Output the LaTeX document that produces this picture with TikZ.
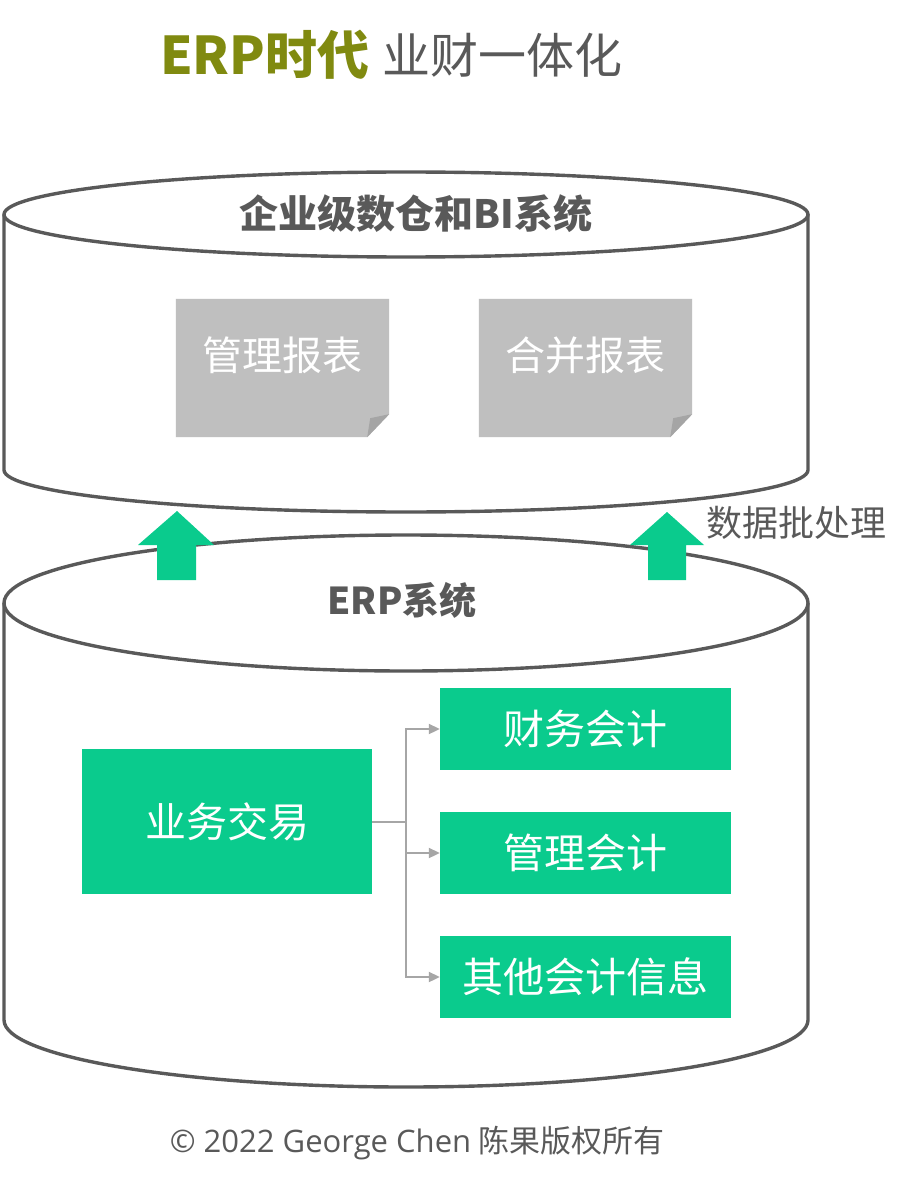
\documentclass[tikz,border=0pt]{standalone}
\usepackage{fontspec}
\setmainfont{Noto Sans CJK SC}
\newfontfamily\latinf{Open Sans}
\usetikzlibrary{arrows.meta}
\definecolor{txtgray}{HTML}{595959}
\definecolor{linegray}{HTML}{595959}
\definecolor{olive}{RGB}{128,138,16}
\definecolor{mint}{HTML}{0ACB8D}
\definecolor{boxgray}{HTML}{BFBFBF}
\definecolor{foldgray}{HTML}{A5A5A5}
\definecolor{conngray}{HTML}{A6A6A6}
\newcommand{\fs}[1]{\fontsize{#1}{#1}\selectfont}
\tikzset{
  cyl/.style={draw=linegray, line width=3.4pt, fill=white},
  greenbox/.style={fill=mint, text=white, inner sep=0pt, font=\fs{41}},
  graynote/.style={inner sep=0pt, text=white, font=\fs{40}, minimum width=213pt, minimum height=138pt},
  bigarrow/.style={fill=mint},
  conn/.style={draw=conngray, line width=2pt, -{Triangle[length=11pt,width=10pt]}},
  plain/.style={draw=conngray, line width=2pt},
}
\begin{document}
\begin{tikzpicture}[x=1pt,y=-1pt]
\useasboundingbox (0,0) rectangle (910,1182);
% top cylinder
\path[cyl] (4,214.5) -- (4,470) arc[start angle=180,end angle=360,x radius=402pt,y radius=42pt] -- (808,214.5);
\path[cyl] (406,214.5) ellipse[x radius=402pt,y radius=42.5pt];
% bottom cylinder
\path[cyl] (4,603) -- (4,1020) arc[start angle=180,end angle=360,x radius=402pt,y radius=67pt] -- (808,603);
\path[cyl] (406,603) ellipse[x radius=402pt,y radius=68pt];
% big green arrows
\fill[bigarrow] (177,511) -- (214,545) -- (196,545) -- (196,580) -- (157,580) -- (157,545) -- (138,545) -- cycle;
\fill[bigarrow] (667,512) -- (704,545) -- (686,545) -- (686,580) -- (648,580) -- (648,545) -- (630,545) -- cycle;
% title
\node[anchor=west, inner sep=0pt, text=olive, font=\fs{52}\bfseries] (t1) at (160,55) {ERP时代};
\node[anchor=west, inner sep=0pt, text=txtgray, font=\fs{48}] (t2) at ([xshift=13pt]t1.east) {业财一体化};
% cylinder titles
\node[text=txtgray, font=\fs{39}\bfseries, inner sep=0pt] (bi) at (416,214) {企业级数仓和BI系统};
\node[text=txtgray, font=\fs{37}\bfseries, inner sep=0pt] (erp) at (402,600) {ERP系统};
\node[anchor=west, text=txtgray, font=\fs{36}, inner sep=0pt] (batch) at (706,523) {数据批处理};
% gray notes
\node[graynote] (n1) at (282.5,368) {};
\node[graynote] (n2) at (585.5,368) {};
\foreach \n in {n1,n2}{
  \fill[boxgray] (\n.north west) -- (\n.north east) -- ([yshift=23pt]\n.south east) -- ([xshift=-22pt]\n.south east) -- (\n.south west) -- cycle;
  \fill[foldgray] ([yshift=23pt]\n.south east) -- ([xshift=-22pt]\n.south east) -- ([xshift=-19pt,yshift=19pt]\n.south east) -- cycle;
}
\node[text=white, font=\fs{40}, inner sep=0pt] (l1) at ([yshift=13pt]n1.center) {管理报表};
\node[text=white, font=\fs{40}, inner sep=0pt] (l2) at ([yshift=13pt]n2.center) {合并报表};
% green boxes
\node[greenbox, minimum width=290pt, minimum height=145pt] (biz) at (227,821.5) {业务交易};
\node[greenbox, minimum width=291pt, minimum height=82pt] (fa) at (585.5,729) {财务会计};
\node[greenbox, minimum width=291pt, minimum height=82pt] (ma) at (585.5,853) {管理会计};
\node[greenbox, minimum width=291pt, minimum height=82pt] (oa) at (585.5,977) {其他会计信息};
% connectors
\coordinate (j) at ([xshift=34pt]biz.east);
\draw[plain] (biz.east) -- (j);
\draw[conn] (j) |- (fa.west);
\draw[conn] (j) -- (j |- ma.west) -- (ma.west);
\draw[conn] (j) |- (oa.west);
% copyright
\node[text=txtgray, font=\fs{31}, inner sep=0pt] (copy) at (417,1143) {{\latinf © 2022 George Chen} 陈果版权所有};
\end{tikzpicture}
\end{document}
